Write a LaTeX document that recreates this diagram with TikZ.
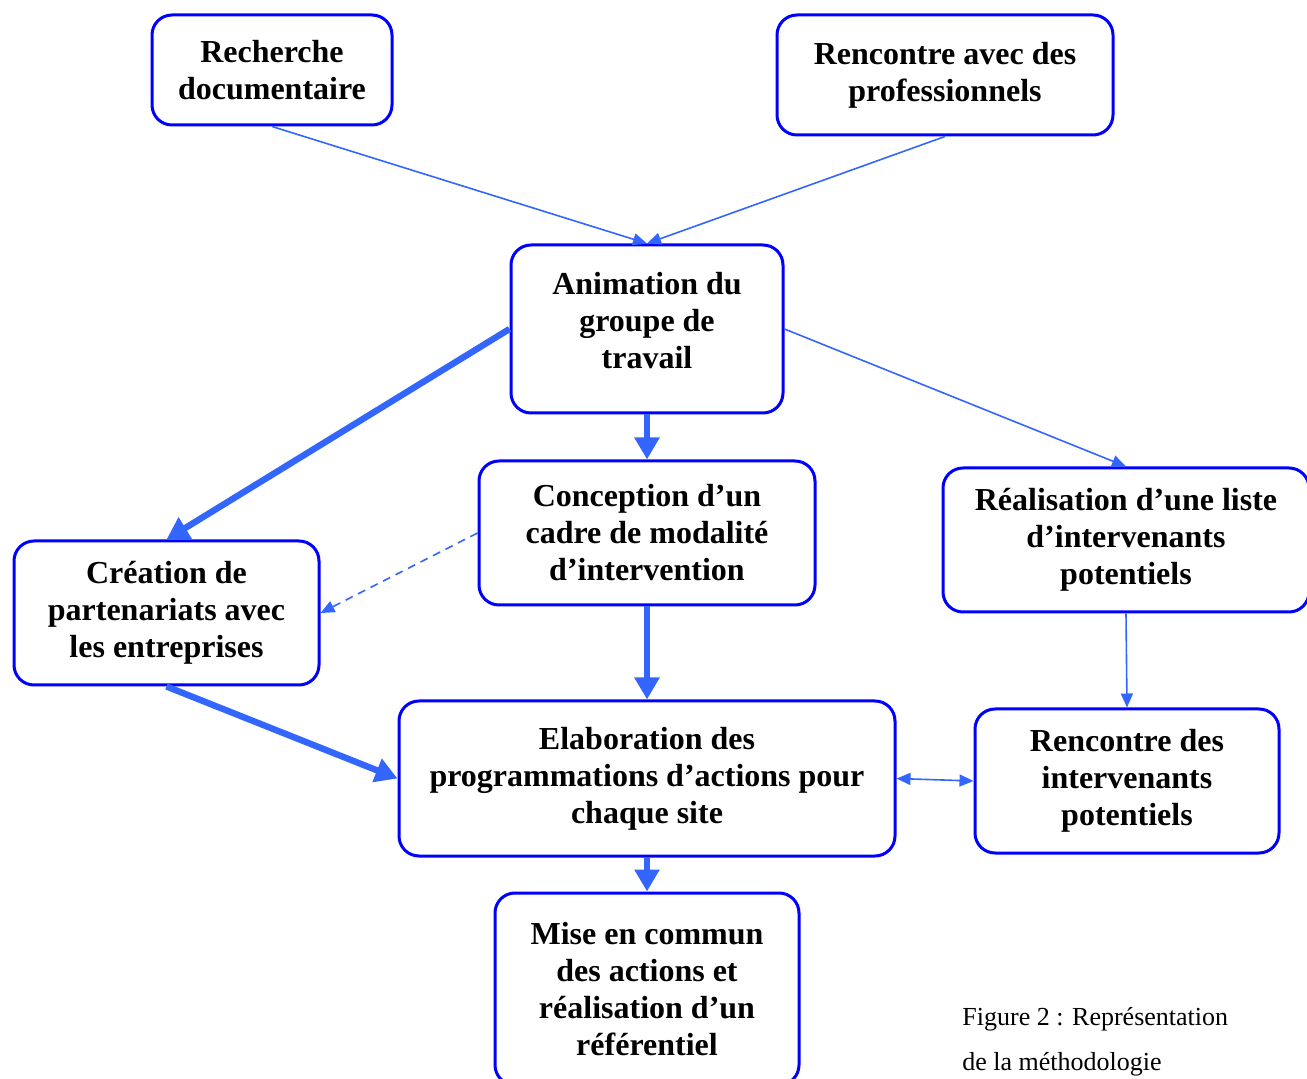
\documentclass[tikz,border=0pt]{standalone}
\usepackage{fontspec}
\setmainfont{Liberation Serif}
\usepackage{xcolor}
\usetikzlibrary{arrows.meta}

\definecolor{boxblue}{RGB}{0,0,255}
\definecolor{flowblue}{RGB}{51,102,255}

\tikzset{
    box/.style={draw=boxblue, line width=1.5pt, rounded corners=10pt, align=center,
        inner sep=0pt, font=\bfseries\fontsize{16}{18.5}\selectfont},
    flowthin/.style={draw=flowblue, line width=0.8pt, -{Triangle[length=7pt,width=6pt]}},
    flowthick/.style={draw=flowblue, line width=3.2pt, -{Triangle[length=11pt,width=12pt]}},
    caption/.style={anchor=base west, inner sep=0pt, font=\fontsize{13}{15}\selectfont}
}

\begin{document}
\begin{tikzpicture}[x=0.5pt, y=-0.5pt]
        \useasboundingbox (0,0) rectangle (1307,1079);

        % Boxes
        \node[box, minimum width=120pt, minimum height=55pt] (rech) at (272,70) {Recherche\\documentaire};
        \node[box, minimum width=168pt, minimum height=60pt] (pros) at (945,75) {Rencontre avec des\\professionnels};
        \node[box, minimum width=136pt, minimum height=84pt] (anim) at (647,329) {Animation du\\groupe de\\travail\rule[-9pt]{0pt}{9pt}};
        \node[box, minimum width=168pt, minimum height=72pt] (conc) at (647,533) {Conception d’un\\cadre de modalité\\d’intervention};
        \node[box, minimum width=183pt, minimum height=72pt] (real) at (1126,540) {Réalisation d’une liste\\d’intervenants\\potentiels};
        \node[box, minimum width=152.5pt, minimum height=72pt] (crea) at (166.5,613) {Création de\\partenariats avec\\les entreprises};
        \node[box, minimum width=248pt, minimum height=77.5pt] (elab) at (647,778.5) {Elaboration des\\programmations d’actions pour\\chaque site};
        \node[box, minimum width=152pt, minimum height=72pt] (renc) at (1127,781) {Rencontre des\\intervenants\\potentiels};
        \node[box, minimum width=152pt, minimum height=96pt] (mise) at (647,989) {Mise en commun\\des actions et\\réalisation d’un\\référentiel};

        % Caption
        \node[caption] (cap1) at (962,1025) {Figure 2 : Représentation};
        \node[caption] (cap2) at (962,1070) {de la méthodologie};

        % Thin arrows
        \foreach \a/\b in {rech.south/anim.north, pros.south/anim.north, anim.east/real.north, real.south/renc.north} {
            \draw[flowthin] (\a) -- (\b);
        }
        \draw[flowthin, dashed, dash pattern=on 4pt off 3pt] (conc.west) -- (crea.east);
        \draw[draw=flowblue, line width=0.8pt, {Triangle[length=7pt,width=6pt]}-{Triangle[length=7pt,width=6pt]}] (elab.east) -- (renc.west);

        % Thick arrows
        \foreach \a/\b in {anim.west/crea.north, anim.south/conc.north, conc.south/elab.north, crea.south/elab.west, elab.south/mise.north} {
            \draw[flowthick] (\a) -- (\b);
        }
    \end{tikzpicture}
\end{document}
